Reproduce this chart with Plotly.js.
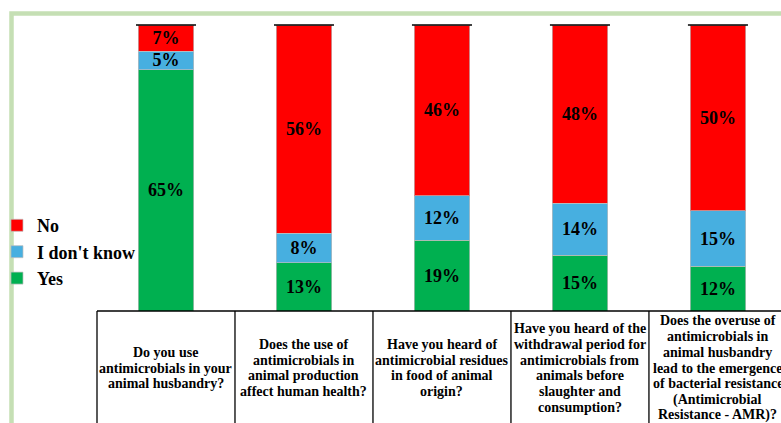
<!DOCTYPE html>
<html>
<head>
<meta charset="utf-8">
<script src="https://cdn.plot.ly/plotly-3.0.1.min.js"></script>
<style>html,body{margin:0;padding:0;background:#fff;}#chart{width:781px;height:423px;}</style>
</head>
<body>
<div id="chart"></div>
<script>
const categories = [
  "Do you use<br>antimicrobials in your<br>animal husbandry?",
  "Does the use of<br>antimicrobials in<br>animal production<br>affect human health?",
  "Have you heard of<br>antimicrobial residues<br>in food of animal<br>origin?",
  "Have you heard of the<br>withdrawal period for<br>antimicrobials from<br>animals before<br>slaughter and<br>consumption?",
  "Does the overuse of<br>antimicrobials in<br>animal husbandry<br>lead to the emergence<br>of bacterial resistance<br>(Antimicrobial<br>Resistance - AMR)?"
];
const seriesNames = ["Yes", "I don't know", "No"];
const yesValues = [65, 13, 19, 15, 12];
const dontKnowValues = [5, 8, 12, 14, 15];
const noValues = [7, 56, 46, 48, 50];
const seriesColors = ["#00b050", "#47afe0", "#ff0000"];

const FONT = "Liberation Serif, Times New Roman, serif";
const W = 781, H = 423;
const M = {l: 97, r: 0, t: 25, b: 112};
const plotH = H - M.t - M.b;
const idx = categories.map((c, i) => i);
const xr = [-0.5, 4.457];
const total = yesValues.map((v, i) => v + dontKnowValues[i] + noValues[i]);
const yMax = Math.max(...total);
const barW = 0.405;
const px = v => (v - xr[0]) / (xr[1] - xr[0]);

const series = [yesValues, dontKnowValues, noValues];
const traces = series.map((vals, s) => ({
  type: 'bar',
  name: seriesNames[s],
  x: idx,
  y: vals,
  width: barW,
  text: vals.map(v => v + '%'),
  textposition: 'inside',
  insidetextanchor: 'middle',
  textangle: 0,
  constraintext: 'none',
  textfont: {family: FONT, size: 18, color: '#000', weight: 'bold'},
  marker: {color: seriesColors[s], line: {color: 'rgba(190,190,190,0.7)', width: 1}},
  hoverinfo: 'skip'
}));

const shapes = [];
// outer green frame
shapes.push({type: 'rect', xref: 'paper', yref: 'paper', x0: -0.125, x1: 1.3, y0: -0.6, y1: 1.04,
  line: {color: '#c5dfb4', width: 4.5}, fillcolor: 'rgba(0,0,0,0)', layer: 'below'});
// table borders
idx.concat([idx.length]).forEach(i => {
  shapes.push({type: 'line', xref: 'paper', yref: 'paper', x0: px(i - 0.5), x1: px(i - 0.5), y0: 0, y1: -0.5,
    line: {color: '#000', width: 1.3}});
});
shapes.push({type: 'line', xref: 'paper', yref: 'paper', x0: px(-0.5), x1: 1.2, y0: 0, y1: 0,
  line: {color: '#000', width: 1.3}});
// black caps on bar tops
idx.forEach(i => {
  shapes.push({type: 'line', xref: 'paper', yref: 'paper', x0: px(i - barW / 2 - 0.015), x1: px(i + barW / 2 + 0.015),
    y0: 1, y1: 1, line: {color: '#000', width: 1.5}});
});

// table cell text, one annotation per line, vertically centred in the cell
const cellCenterPx = 57;   // px below table top
const lineGap = 15.8;
const annotations = [];
categories.forEach((c, i) => {
  const lines = c.split('<br>');
  lines.forEach((ln, k) => {
    const off = cellCenterPx + (k - (lines.length - 1) / 2) * lineGap;
    annotations.push({
      xref: 'x', yref: 'paper', x: i, y: -off / plotH, text: ln, showarrow: false,
      xanchor: 'center', yanchor: 'middle', align: 'center',
      font: {family: FONT, size: 14, color: '#000', weight: 'bold'}
    });
  });
});

const layout = {
  width: W, height: H,
  margin: {l: M.l, r: M.r, t: M.t, b: M.b, pad: 0, autoexpand: false},
  paper_bgcolor: '#fff', plot_bgcolor: '#fff',
  barmode: 'stack',
  showlegend: true,
  legend: {x: -0.1462, xanchor: 'left', y: 0.206, yanchor: 'middle', traceorder: 'reversed',
    font: {family: FONT, size: 18, color: '#000', weight: 'bold'}, bgcolor: 'rgba(0,0,0,0)'},
  xaxis: {range: xr, showticklabels: false, showgrid: false, zeroline: false, showline: false, ticks: '', fixedrange: true},
  yaxis: {range: [0, yMax], showticklabels: false, showgrid: false, zeroline: false, showline: false, ticks: '', fixedrange: true},
  shapes: shapes,
  annotations: annotations
};

Plotly.newPlot('chart', traces, layout, {displayModeBar: false, staticPlot: true});
</script>
</body>
</html>
